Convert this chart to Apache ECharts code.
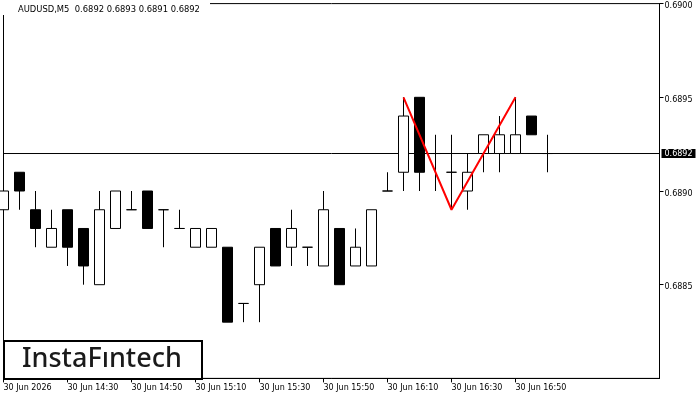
<!DOCTYPE html>
<html>
<head>
<meta charset="utf-8">
<script src="https://cdn.jsdelivr.net/npm/echarts@6/dist/echarts.min.js"></script>
<style>html,body{margin:0;padding:0;background:#fff}#c{width:700px;height:400px}</style>
</head>
<body>
<div id="c"></div>
<script>
// 5-minute bars, AUDUSD M5, 30 Jun 2026 (last 7 slots are empty chart shift)
var categories = ['14:10','14:15','14:20','14:25','14:30','14:35','14:40','14:45','14:50','14:55',
  '15:00','15:05','15:10','15:15','15:20','15:25','15:30','15:35','15:40','15:45',
  '15:50','15:55','16:00','16:05','16:10','16:15','16:20','16:25','16:30','16:35',
  '16:40','16:45','16:50','16:55','17:00','17:05','17:10','17:15','17:20','17:25','17:30','17:35'];
var opens  = [0.6889,0.6891,0.6889,0.6887,0.6889,0.6888,0.6885,0.6888,0.6889,0.6890,
              0.6889,0.6888,0.6887,0.6887,0.6887,0.6884,0.6885,0.6888,0.6887,0.6887,
              0.6886,0.6888,0.6886,0.6886,0.6890,0.6891,0.6895,0.6892,0.6891,0.6890,
              0.6892,0.6892,0.6892,0.6894,0.6892];
var highs  = [0.6890,0.6891,0.6890,0.6889,0.6889,0.6888,0.6890,0.6890,0.6890,0.6890,
              0.6889,0.6889,0.6888,0.6888,0.6887,0.6884,0.6887,0.6888,0.6889,0.6887,
              0.6890,0.6888,0.6888,0.6889,0.6891,0.6895,0.6895,0.6893,0.6893,0.6892,
              0.6893,0.6894,0.6895,0.6894,0.6893];
var lows   = [0.6889,0.6889,0.6887,0.6887,0.6886,0.6885,0.6885,0.6888,0.6889,0.6888,
              0.6887,0.6888,0.6887,0.6887,0.6883,0.6883,0.6883,0.6886,0.6886,0.6886,
              0.6886,0.6885,0.6886,0.6886,0.6890,0.6890,0.6890,0.6890,0.6889,0.6889,
              0.6891,0.6891,0.6892,0.6893,0.6891];
var closes = [0.6890,0.6890,0.6888,0.6888,0.6887,0.6886,0.6889,0.6890,0.6889,0.6888,
              0.6889,0.6888,0.6888,0.6888,0.6883,0.6884,0.6887,0.6886,0.6888,0.6887,
              0.6889,0.6885,0.6887,0.6889,0.6890,0.6894,0.6891,0.6892,0.6891,0.6891,
              0.6893,0.6893,0.6893,0.6893,0.6892];
// double top pattern (red V)
var patternIdx = [25, 28, 32];
var patternVal = [0.6895, 0.6889, 0.6895];
// x tick labels
var tickTimes  = ['14:10','14:30','14:50','15:10','15:30','15:50','16:10','16:30','16:50'];
var tickLabels = ['30 Jun 2026','30 Jun 14:30','30 Jun 14:50','30 Jun 15:10','30 Jun 15:30','30 Jun 15:50','30 Jun 16:10','30 Jun 16:30','30 Jun 16:50'];
var yMin = 0.6880, yMax = 0.6900, yStep = 0.0005;

var candleData = opens.map(function (o, i) { return [o, closes[i], lows[i], highs[i]]; });
var patternData = patternIdx.map(function (ix, i) { return [ix, patternVal[i]]; });
var lastClose = closes[closes.length - 1];
var priceLineData = [[0, lastClose], [categories.length - 1, lastClose]];
var titleText = 'AUDUSD,M5  ' + [opens[opens.length-1], highs[highs.length-1], lows[lows.length-1], lastClose].map(function(v){return v.toFixed(4);}).join(' ');

function isTick(idx) { return tickTimes.indexOf(categories[idx]) >= 0; }

var chart = echarts.init(document.getElementById('c'), null, {renderer: 'canvas'});
chart.setOption({
  animation: false,
  backgroundColor: '#fff',
  title: {
    text: titleText, left: 18, top: 6, padding: 0, z: 20,
    textStyle: {fontFamily: 'DejaVu Sans', fontSize: 8.4, fontWeight: 'normal', color: '#000'}
  },
  grid: {left: 3.5, right: 40.5, top: 3.6, bottom: 21.6, show: true, borderColor: '#000', borderWidth: 1, backgroundColor: '#fff'},
  xAxis: {
    type: 'category', data: categories, boundaryGap: false,
    axisLine: {lineStyle: {color: '#000', width: 1}},
    axisTick: {show: true, length: 4, interval: function (idx) { return isTick(idx); }, lineStyle: {color: '#000'}},
    axisLabel: {
      interval: function (idx) { return isTick(idx); },
      formatter: function (v) { var k = tickTimes.indexOf(v); return k >= 0 ? tickLabels[k] : ''; },
      align: 'left', margin: 6, color: '#000', fontFamily: 'DejaVu Sans', fontSize: 8
    },
    splitLine: {show: false}
  },
  yAxis: {
    type: 'value', position: 'right', min: yMin, max: yMax, interval: yStep,
    axisLine: {show: true, lineStyle: {color: '#000', width: 1}},
    axisTick: {show: true, length: 4, lineStyle: {color: '#000'}},
    axisLabel: {showMinLabel: false, margin: 5, verticalAlign: 'top', lineHeight: 5, color: '#000', fontFamily: 'DejaVu Sans', fontSize: 8,
      formatter: function (v) { return v.toFixed(4); }},
    splitLine: {show: false}
  },
  series: [
    {
      type: 'line', data: priceLineData, symbol: 'none', silent: true, z: 1,
      lineStyle: {color: '#000', width: 1},
      endLabel: {show: true, formatter: lastClose.toFixed(4), color: '#fff', backgroundColor: '#000',
        fontFamily: 'DejaVu Sans', fontSize: 8, padding: [1, 3, 0, 3], distance: 2}
    },
    {
      type: 'candlestick', data: candleData, barWidth: 11, silent: true, clip: true, z: 2,
      itemStyle: {color: '#fff', color0: '#000', borderColor: '#000', borderColor0: '#000', borderColorDoji: '#000', borderWidth: 1}
    },
    {
      type: 'line', data: patternData, symbol: 'none', silent: true,
      lineStyle: {color: '#ff0000', width: 2}, z: 5
    }
  ],
  graphic: [
    {type: 'rect', left: 0, top: 0, shape: {width: 210, height: 15}, style: {fill: '#fff'}, z: 10},
    {type: 'rect', left: 3, top: 340, shape: {width: 198, height: 38}, style: {fill: '#fff', stroke: '#000', lineWidth: 2}, z: 100},
    {type: 'text', left: 22, top: 346, style: {text: 'InstaFıntech', fontFamily: 'Noto Sans', fontSize: 27, fontWeight: 500, fill: '#1a1a1a'}, z: 101}
  ]
});
</script>
</body>
</html>
